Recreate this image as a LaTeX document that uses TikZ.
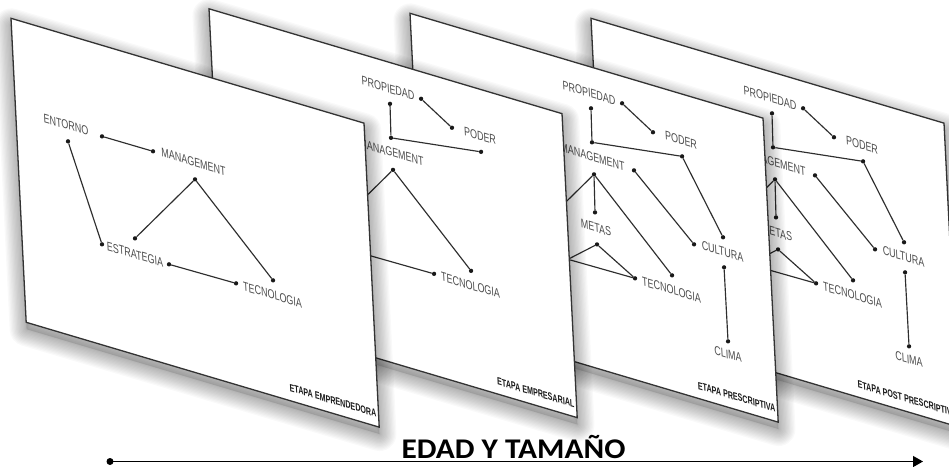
\documentclass[tikz,border=0pt]{standalone}
\usepackage{fontspec}
\newfontfamily\lblfont[FakeStretch=0.71]{Liberation Sans}
\newfontfamily\etapafont[FakeStretch=0.68]{Liberation Sans}
\newfontfamily\titlefont{Carlito}
\usetikzlibrary{arrows.meta}
\tikzset{
  conn/.style={draw=black!82, line width=1.15pt},
  dotmark/.style={circle, fill=black!90, inner sep=0pt, minimum size=4.3pt},
  lbl/.style={font=\lblfont\fontsize{12.6}{12.6}\selectfont, text=black!70, inner sep=0pt, transform shape},
  etapalbl/.style={font=\etapafont\bfseries\fontsize{10.5}{10.5}\selectfont, text=black!90, inner sep=0pt, transform shape, anchor=east},
  panelbox/.style={fill=white, draw=black!80, line width=1.3pt},
  panelframe/.style={shift={#1}, cm={1,-0.297,-0.05,1,(0,0)}},
  shadowstroke/.style={black, opacity=0.022, line join=round},
}
\newcommand{\stagepanel}[4]{%
\begin{scope}[panelframe={#2}]
  \foreach \k [evaluate=\k as \w using 2.6*\k] in {1,...,13}{
    \draw[shadowstroke, line width=\w pt] (0,7) -- (353,7) -- (353,311) -- (0,311) -- cycle;}
  \fill[black, opacity=0.12] (0,7) -- (353,7) -- (353,311) -- (0,311) -- cycle;
  \draw[panelbox] (0,0) -- (353,0) -- (353,304) -- (0,304) -- cycle;
  % base graph
  \node[lbl] (#1lent) at (50.4,91.6) {ENTORNO};
  \node[lbl] (#1lman) at (178.0,90.7) {MANAGEMENT};
  \node[lbl] (#1lest) at (113.9,202.2) {ESTRATEGIA};
  \node[lbl] (#1ltec) at (251.5,201.8) {TECNOLOGIA};
  \node[dotmark] (#1enr) at (86.4,92.4) {};
  \node[dotmark] (#1mal) at (137.4,92.2) {};
  \node[dotmark] (#1enb) at (51.6,107.7) {};
  \node[dotmark] (#1esl) at (80.9,202.0) {};
  \node[dotmark] (#1mb) at (178.6,108.0) {};
  \node[dotmark] (#1est) at (114.7,186.0) {};
  \node[dotmark] (#1esr) at (147.9,202.1) {};
  \node[dotmark] (#1tel) at (215.0,201.2) {};
  \node[dotmark] (#1ter) at (252.7,187.0) {};
  \draw[conn] (#1enr) -- (#1mal);
  \draw[conn] (#1enb) -- (#1esl);
  \draw[conn] (#1mb) -- (#1est);
  \draw[conn] (#1mb) -- (#1ter);
  \draw[conn] (#1esr) -- (#1tel);
  \ifnum#3>1
  \node[lbl] (#1lpro) at (177.7,26.7) {PROPIEDAD};
  \node[lbl] (#1lpod) at (268.7,47.2) {PODER};
  \node[dotmark] (#1prr) at (210.7,27.4) {};
  \node[dotmark] (#1po) at (240.6,47.5) {};
  \node[dotmark] (#1prb) at (178.9,41.9) {};
  \node[dotmark] (#1cor) at (178.2,76.1) {};
  \node[dotmark] (#1pob) at (268.9,63.2) {};
  \draw[conn] (#1prr) -- (#1po);
  \draw[conn] (#1prb) -- (#1cor);
  \draw[conn] (#1cor) -- (#1pob);
  \fi
  \ifnum#3>2
  \node[lbl] (#1lmet) at (178.0,161.7) {METAS};
  \node[lbl] (#1lcul) at (305.2,147.4) {CULTURA};
  \node[lbl] (#1lcli) at (305.5,250.3) {CLIMA};
  \node[dotmark] (#1mr) at (219.4,91.9) {};
  \node[dotmark] (#1cut) at (306.4,133.0) {};
  \node[dotmark] (#1cul) at (276.6,148.9) {};
  \node[dotmark] (#1met) at (177.7,146.3) {};
  \node[dotmark] (#1meb) at (178.1,178.2) {};
  \node[dotmark] (#1cub) at (305.9,163.2) {};
  \node[dotmark] (#1cl) at (306.2,237.1) {};
  \draw[conn] (#1pob) -- (#1cut);
  \draw[conn] (#1mr) -- (#1cul);
  \draw[conn] (#1mb) -- (#1met);
  \draw[conn] (#1meb) -- (#1esr);
  \draw[conn] (#1meb) -- (#1tel);
  \draw[conn] (#1cub) -- (#1cl);
  \fi
  \node[etapalbl] (#1etapa) at (351,291) {#4};
\end{scope}}
\begin{document}
\begin{tikzpicture}[x=1pt,y=-1pt]
\useasboundingbox (0,0) rectangle (949,466);
\fill[white] (0,0) rectangle (949,466);
\stagepanel{pd}{(591,18.3)}{3}{ETAPA POST PRESCRIPTIVA}
\stagepanel{pc}{(410,13.3)}{3}{ETAPA PRESCRIPTIVA}
\stagepanel{pb}{(209,8.8)}{2}{ETAPA EMPRESARIAL}
\stagepanel{pa}{(11,18.3)}{1}{ETAPA EMPRENDEDORA}
\node[font=\titlefont\bfseries\fontsize{28.5}{28.5}\selectfont, anchor=base, inner sep=0pt, xscale=1.1] (title) at (513.5,458.3) {EDAD Y TAMAÑO};
\node[circle, fill=black, inner sep=0pt, minimum size=7pt] (startdot) at (110,461.5) {};
\coordinate (arrowend) at (923,461.5);
\draw[line width=1.3pt, -{Triangle[length=10pt,width=11pt]}] (startdot.center) -- (arrowend);
\end{tikzpicture}
\end{document}
